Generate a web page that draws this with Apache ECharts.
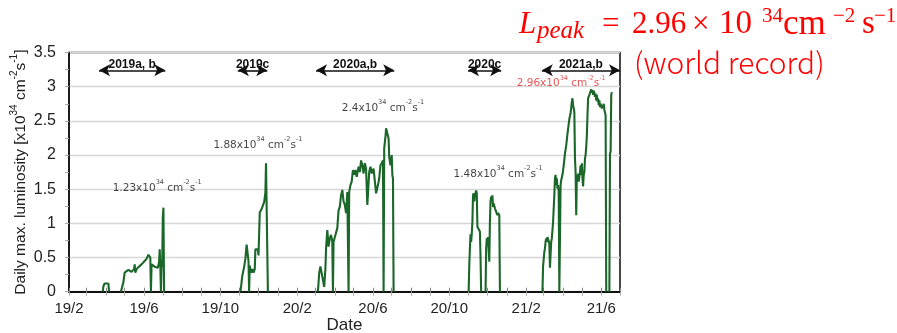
<!DOCTYPE html>
<html>
<head>
<meta charset="utf-8">
<script src="https://cdn.jsdelivr.net/npm/echarts@6/dist/echarts.min.js"></script>
<style>
  html, body { margin: 0; padding: 0; background: #fff; }
  #chart { width: 897px; height: 333px; }
</style>
</head>
<body>
<div id="chart"></div>
<script>
// x values are days counted from 2019-02-01
const tickDays = [0, 120, 242, 365, 486, 608, 731, 851];
const tickLabels = ['19/2', '19/6', '19/10', '20/2', '20/6', '20/10', '21/2', '21/6'];
const monthDays = [0, 28, 59, 89, 120, 150, 181, 212, 242, 273, 303, 334, 365, 394, 425, 455,
                   486, 516, 547, 578, 608, 639, 669, 700, 731, 759, 790, 820, 851, 881];
const yTickLabels = ['0', '0.5', '1', '1.5', '2', '2.5', '3', '3.5'];

// daily max. luminosity [x10^34 cm^-2 s^-1], one pair of arrays per operation block
const run2019aDay = [54, 55, 57, 63, 64];
const run2019aLum = [0, 0.08, 0.12, 0.12, 0];

const run2019bDay = [83, 87, 89, 92, 95, 100, 103, 104, 105, 106, 108, 111, 113, 116, 119, 121, 124, 127, 129, 130,
                     131, 132, 135, 138, 140, 142, 144, 145, 146, 147, 148, 149, 150, 151, 152];
const run2019bLum = [0, 0.14, 0.28, 0.30, 0.32, 0.29, 0.31, 0.33, 0.40, 0.28, 0.33, 0.36, 0.34, 0.40, 0.42, 0.45, 0.48, 0.54, 0.54, 0.50,
                     0, 0.40, 0.40, 0.36, 0.38, 0.35, 0.43, 0.62, 0.38, 0, 0.40, 0.36, 1.10, 1.23, 0];

const run2019cDay = [274, 275, 277, 280, 282, 284, 286, 287, 288, 289, 291, 293, 295, 297, 298, 300, 302, 303, 304, 305,
                     308, 310, 312, 314, 315, 317, 318];
const run2019cLum = [0, 0.06, 0.23, 0.36, 0.48, 0.69, 0.53, 0.45, 0, 0.38, 0.28, 0.33, 0.28, 0.33, 0.62, 0.60, 0.62, 0.53, 0.55, 1.16,
                     1.21, 1.23, 1.31, 1.45, 1.88, 1.88, 0];

const run2020abDay = [398, 400, 402, 404, 405, 407, 408, 410, 411, 413, 415, 417, 419, 421, 422, 423, 426, 429, 431, 433,
                      435, 437, 439, 441, 443, 445, 447, 448, 450, 452, 454, 456, 458, 460, 463, 465, 467, 469, 471, 473,
                      475, 477, 480, 482, 484, 487, 489, 491, 494, 496, 498, 500, 502, 503, 504, 506, 507, 509, 511, 512,
                      514, 516, 517, 518, 519];
const run2020abLum = [0, 0.27, 0.37, 0.39, 0.22, 0.24, 0.07, 0.34, 0.63, 0.90, 0.66, 0.78, 0.83, 0.73, 0, 0.73, 0.83, 0.93, 1.19, 1.24,
                      1.41, 1.49, 1.32, 1.27, 1.15, 1.46, 0, 1.46, 1.56, 1.61, 1.78, 1.71, 1.78, 1.68, 1.83, 1.75, 1.92, 1.85, 1.73, 1.88,
                      1.80, 1.27, 1.75, 1.83, 1.73, 1.80, 1.78, 1.44, 1.56, 1.66, 1.85, 1.88, 1.92, 0, 2.10, 2.27, 2.39, 2.40, 2.24, 1.97,
                      1.85, 2.00, 1.70, 1.66, 0];

const run2020c1Day = [639, 640, 641, 642, 643, 644, 645, 646, 647, 648, 649, 650, 651, 652, 653, 655, 657, 658, 659];
const run2020c1Lum = [0, 0.39, 0.63, 0.84, 0.73, 0.85, 1.02, 1.41, 1.44, 1.32, 1.41, 1.39, 1.48, 1.44, 0.95, 0.93, 0.88, 0.50, 0];

const run2020c2Day = [666, 667, 668, 669, 670, 671, 672, 673, 674, 675, 676, 677, 678, 679, 680, 681, 682, 684, 685, 686, 688, 689];
const run2020c2Lum = [0, 0.63, 0.78, 0.73, 0.80, 0.63, 0.44, 1.02, 1.32, 1.39, 1.36, 1.41, 1.24, 1.29, 1.27, 1.22, 1.24, 1.22, 1.12, 1.15, 1.12, 0];

const run2021aDay = [757, 758, 759, 760, 761, 762, 763, 764, 765, 766, 768, 769, 771, 772, 774, 775, 776, 777, 778, 779,
                     780, 781, 782, 783, 784, 786, 787, 789, 791, 793, 795, 797, 800, 802, 804, 805, 806, 807, 808, 809,
                     810, 811, 812, 813, 814, 815, 817, 818, 819, 820, 821, 822, 823, 824, 825, 826, 827, 828, 829, 830,
                     832, 835, 836, 837, 838, 839, 840, 841, 842, 843, 844, 845, 846, 847, 848, 849, 850, 852, 853, 854,
                     855, 856, 858, 859];
const run2021aLum = [0, 0.37, 0.39, 0.58, 0.63, 0.73, 0.78, 0.73, 0.80, 0.78, 0.71, 0.35, 0.73, 0.78, 1.02, 1.22, 1.41, 1.66, 1.71, 1.56,
                     1.66, 1.51, 1.56, 1.46, 0, 1.56, 1.63, 1.71, 1.85, 2.02, 2.14, 2.31, 2.53, 2.61, 2.78, 2.83, 2.73, 2.68, 2.63, 1.95,
                     1.75, 1.12, 1.71, 1.61, 1.73, 1.61, 1.75, 1.85, 1.71, 1.88, 1.66, 1.54, 1.71, 1.75, 1.95, 2.00, 2.12, 2.29, 2.58, 2.83,
                     2.88, 2.96, 2.91, 2.95, 2.88, 2.94, 2.91, 2.85, 2.90, 2.80, 2.88, 2.78, 2.83, 2.73, 2.80, 2.70, 2.75, 2.68, 2.73, 2.70,
                     2.75, 2.66, 2.58, 0];

const run2021bDay = [864, 865, 866, 867, 868];
const run2021bLum = [0, 2.02, 2.05, 2.88, 2.92];

// operation periods shown as double arrows
const periodNames = ['2019a, b', '2019c', '2020a,b', '2020c', '2021a,b'];
const periodStart = [48, 270, 395, 638, 756];
const periodEnd = [154, 317, 520, 691, 881];
const periodLevel = 3.24;

// peak luminosity notes (mantissa of x10^34), anchored in data space
const noteMantissa = ['1.23', '1.88', '2.4', '1.48', '2.96'];
const noteDay = [141, 302, 502, 686, 787];
const noteLum = [1.545, 2.17, 2.71, 1.75, 3.07];
const recordIndex = 4;

const runs = [
  [run2019aDay, run2019aLum], [run2019bDay, run2019bLum], [run2019cDay, run2019cLum],
  [run2020abDay, run2020abLum], [run2020c1Day, run2020c1Lum], [run2020c2Day, run2020c2Lum],
  [run2021aDay, run2021aLum], [run2021bDay, run2021bLum]
];

const GREEN = '#1b6629';
const RED = '#ff0000';
const SANS = "'Liberation Sans', Arial, sans-serif";
const SERIF = "'Liberation Serif', 'Times New Roman', serif";
const NOTE_FONT = "'DejaVu Sans', sans-serif";

const supRich = (size, color, sup, family) => ({
  n: { fontSize: size, color: color, fontFamily: family, lineHeight: size + 4, verticalAlign: 'bottom' },
  s: { fontSize: sup, color: color, fontFamily: family, lineHeight: sup + 2, verticalAlign: 'top' }
});

const lineSeries = runs.map(([d, v]) => ({
  type: 'line',
  xAxisIndex: 0,
  yAxisIndex: 0,
  data: d.map((x, i) => [x, v[i]]),
  showSymbol: false,
  symbol: 'none',
  silent: true,
  z: 3,
  lineStyle: { color: GREEN, width: 2.1 },
  animation: false
}));

const arrowSeries = {
  type: 'line',
  data: [],
  silent: true,
  animation: false,
  markLine: {
    silent: true,
    animation: false,
    symbol: ['arrow', 'arrow'],
    symbolSize: [9, 11],
    lineStyle: { color: '#111', width: 1.6, type: 'solid' },
    label: {
      show: true,
      position: 'insideMiddleTop',
      distance: 0,
      fontFamily: SANS,
      fontWeight: 'bold',
      fontSize: 12,
      color: '#111',
      formatter: p => p.name
    },
    data: periodNames.map((name, i) => [
      { name: name, coord: [periodStart[i], periodLevel] },
      { coord: [periodEnd[i], periodLevel] }
    ])
  }
};

const noteSeries = {
  type: 'scatter',
  symbolSize: 0,
  silent: true,
  animation: false,
  z: 5,
  data: noteMantissa.map((m, i) => ({ value: [noteDay[i], noteLum[i]], name: m })),
  label: {
    show: true,
    position: 'inside',
    formatter: p => `{n|${p.name}x10}{s|34}{n| cm}{s|-2}{n|s}{s|-1}`,
    rich: supRich(10.5, '#111', 6.5, NOTE_FONT)
  }
};
noteSeries.data[recordIndex].label = { rich: supRich(10.5, '#e02a2a', 6.5, NOTE_FONT) };

// headline "L_peak = 2.96 × 10^34 cm^-2 s^-1": [text, left, middle y, font size, italic]
const headline = [
  ['L', 519, 24.5, 31, true],
  ['peak', 537, 31, 25, true],
  ['=', 602, 24.5, 31, false],
  ['2.96', 632, 24.5, 31, false],
  ['×', 692, 24.5, 31, false],
  ['10', 719, 24.5, 33, false],
  ['34', 762, 16.5, 21, false],
  ['cm', 783, 24.5, 35, false],
  ['−2', 833, 16.5, 21, false],
  ['s', 862, 24.5, 33, false],
  ['−1', 874, 16.5, 21, false]
];

const headlineGraphics = headline.map(([t, x, y, size, italic]) => ({
  type: 'text',
  x: x,
  y: y,
  silent: true,
  style: {
    text: t,
    fontFamily: SERIF,
    fontSize: size,
    fontStyle: italic ? 'italic' : 'normal',
    fill: RED,
    align: 'left',
    verticalAlign: 'middle'
  }
}));

const chart = echarts.init(document.getElementById('chart'), null, { renderer: 'canvas' });

chart.setOption({
  animation: false,
  backgroundColor: '#fff',
  grid: {
    show: true,
    left: 69, right: 277, top: 52.5, bottom: 41.3,
    containLabel: false,
    outerBoundsMode: 'none',
    borderColor: '#1a1a1a', borderWidth: 1.6,
    backgroundColor: 'transparent'
  },
  xAxis: [{
    type: 'value',
    min: 0, max: 881,
    position: 'bottom',
    axisLine: { show: true, lineStyle: { color: '#111', width: 2 } },
    axisTick: { show: true, inside: true, length: 4, customValues: monthDays, lineStyle: { color: '#888', width: 1 } },
    axisLabel: {
      customValues: tickDays,
      formatter: v => tickLabels[tickDays.indexOf(Math.round(v))] || '',
      fontFamily: SANS, fontSize: 15, color: '#222', margin: 10
    },
    splitLine: { show: false },
    name: 'Date',
    nameLocation: 'middle',
    nameGap: 25,
    nameMoveOverlap: false,
    nameTextStyle: { fontFamily: SANS, fontSize: 17, color: '#222' }
  }, {
    type: 'value',
    min: 0, max: 881,
    position: 'top',
    axisLine: { show: false },
    axisTick: { show: true, inside: true, length: 4, customValues: monthDays, lineStyle: { color: '#aaa', width: 1 } },
    axisLabel: { show: false },
    splitLine: { show: false }
  }],
  yAxis: [{
    type: 'value',
    min: 0, max: 3.5, interval: 0.5,
    axisLine: { show: true, lineStyle: { color: '#111', width: 1.6 } },
    axisTick: { show: false },
    axisLabel: {
      formatter: v => yTickLabels[Math.round(v / 0.5)],
      fontFamily: SANS, fontSize: 16, color: '#222', margin: 13
    },
    splitLine: { show: true, lineStyle: { color: '#d6d6d6', width: 1.3 } },
    name: '{n|Daily max. luminosity [x10}{s|34}{n| cm}{s|-2}{n|s}{s|-1}{n|]}',
    nameLocation: 'middle',
    nameRotate: 90,
    nameGap: 40,
    nameMoveOverlap: false,
    nameTextStyle: { rich: supRich(15.5, '#222', 10, SANS) }
  }, {
    type: 'value',
    min: 0, max: 3.5, interval: 0.25,
    position: 'right',
    axisLine: { show: false },
    axisTick: { show: true, inside: true, length: 4, lineStyle: { color: '#aaa' } },
    axisLabel: { show: false },
    splitLine: { show: false }
  }],
  series: [...lineSeries, arrowSeries, noteSeries],
  graphic: [...headlineGraphics, {
    type: 'text',
    x: 634,
    y: 63,
    silent: true,
    style: {
      text: '(world record)',
      fontFamily: "'Noto Sans CJK JP', 'Noto Sans', sans-serif",
      fontWeight: 300,
      fontSize: 30,
      fill: RED,
      align: 'left',
      verticalAlign: 'middle'
    }
  }]
});
</script>
</body>
</html>
